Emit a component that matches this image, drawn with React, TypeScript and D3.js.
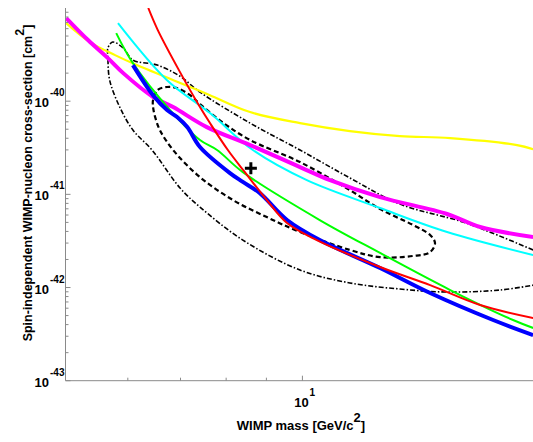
import React from 'react';
import * as d3 from 'd3';

const W = 533;
const H = 442;

const xDomain = [5, 20];
const yDomain = [1e-43, 1e-39];
const xMinorTicks = [6, 7, 8, 9];
const xMajorTicks = [10];
const xMajorExps = ['1'];
const yMajorTicks = [1e-43, 1e-42, 1e-41, 1e-40];
const yMajorExps = ['-43', '-42', '-41', '-40'];

const magentaMass = [5.01, 5.34, 5.66, 5.92, 6.46, 6.85, 7.56, 8.58, 9.93, 10.84, 12.55, 15.27, 16.82, 19.64];
const magentaSigma = [7.8e-40, 4.53e-40, 2.9e-40, 2.0e-40, 1.11e-40, 8.65e-41, 5.27e-41, 3.38e-41, 1.96e-41, 1.42e-41, 9.35e-42, 6.15e-42, 4.46e-42, 3.48e-42];

const yellowMass = [5.01, 5.37, 5.78, 6.16, 7.2, 7.63, 8.58, 9.93, 11.49, 13.3, 15.41, 18.74, 19.64];
const yellowSigma = [6.89e-40, 4.31e-40, 3.12e-40, 2.44e-40, 1.42e-40, 1.16e-40, 7.64e-41, 5.82e-41, 4.78e-41, 4.22e-41, 4.02e-41, 3.38e-41, 3.06e-41];

const cyanMass = [5.83, 6.73, 7.63, 8.65, 10.13, 12.55, 15.27, 19.64];
const cyanSigma = [6.89e-40, 1.68e-40, 7.45e-41, 2.99e-41, 1.42e-41, 7.13e-42, 3.94e-42, 2.23e-42];

const greenMass = [5.8, 6.09, 6.79, 7.41, 7.79, 8.4, 10.52, 12.55, 15.41, 18.52, 19.64];
const greenSigma = [5.38e-40, 2.56e-40, 8.02e-41, 3.83e-41, 2.99e-41, 1.73e-41, 5.3e-42, 2.35e-42, 9.4e-43, 4.48e-43, 3.68e-43];

const blueMass = [6.09, 6.46, 6.73, 6.93, 7.14, 7.41, 8.09, 8.4, 8.83, 9.56, 10.52, 12.55, 14.53, 17.47, 19.64];
const blueSigma = [2.44e-40, 1.16e-40, 8.02e-41, 6.75e-41, 5.27e-41, 3.22e-41, 1.69e-41, 1.36e-41, 1.03e-41, 5.3e-42, 3.23e-42, 1.62e-42, 8.73e-43, 4.48e-43, 3.09e-43];

const redMass = [6.37, 6.55, 6.99, 7.41, 7.63, 8.04, 8.45, 9.01, 9.56, 10.43, 12.55, 14.53, 16.82, 19.64];
const redSigma = [1.0e-39, 5.79e-40, 2.05e-40, 8.65e-41, 5.82e-41, 2.99e-41, 1.73e-41, 8.69e-42, 4.92e-42, 3.23e-42, 1.66e-42, 1.06e-42, 6.49e-43, 4.71e-43];

const outerMass = [19.64, 17.68, 16.0, 13.3, 11.49, 9.93, 8.58, 7.41, 6.99, 6.54, 6.09, 5.92, 5.74, 5.66, 5.66, 5.69, 5.86, 6.09, 6.44, 6.99, 7.41, 8.4, 9.93, 11.49, 13.3, 15.27, 17.83, 19.64];
const outerSigma = [2.53e-42, 3.66e-42, 5.05e-42, 7.87e-42, 1.5e-41, 2.99e-41, 5.82e-41, 1.25e-40, 1.85e-40, 2.44e-40, 2.76e-40, 3.72e-40, 4.31e-40, 3.72e-40, 2.97e-40, 1.68e-40, 8.65e-41, 4.9e-41, 2.99e-41, 1.17e-41, 7.31e-42, 3.23e-42, 1.54e-42, 1.12e-42, 9.64e-43, 8.95e-43, 9.4e-43, 1.06e-42];

const innerMass = [6.46, 6.55, 6.73, 6.93, 7.2, 7.41, 7.97, 8.58, 9.93, 11.49, 12.55, 13.82, 14.53, 14.74, 14.53, 13.82, 12.55, 11.49, 9.93, 9.01, 8.16, 7.41, 6.85, 6.59, 6.5, 6.46];
const innerSigma = [1.03e-40, 1.32e-40, 1.42e-40, 1.38e-40, 1.16e-40, 9.31e-41, 5.68e-41, 3.83e-41, 2.22e-41, 1.11e-41, 6.95e-42, 4.69e-42, 3.66e-42, 3.0e-42, 2.4e-42, 2.18e-42, 2.12e-42, 2.53e-42, 3.94e-42, 5.7e-42, 8.69e-42, 1.53e-41, 2.99e-41, 4.9e-41, 6.75e-41, 8.65e-41];

const bestFitMass = [8.6];
const bestFitSigma = [1.91e-41];

const X0 = 65.5;
const Y0 = 380.7;
const YTOP = 8;
const x = d3.scaleLog().domain(xDomain).range([X0, X0 + Math.log10(4) * 787]);
const y = d3.scaleLog().domain(yDomain).range([Y0, YTOP]);

const zip = (m: number[], s: number[]) => m.map((v, i) => [v, s[i]] as [number, number]);

const lineGen = d3.line<[number, number]>().x(d => x(d[0])).y(d => y(d[1])).curve(d3.curveCatmullRom.alpha(0.5));
const closedGen = d3.line<[number, number]>().x(d => x(d[0])).y(d => y(d[1])).curve(d3.curveCatmullRomClosed.alpha(0.5));

const FONT = '"Liberation Sans", Arial, Helvetica, sans-serif';
const AXIS = '#8a8a8a';

export default function App() {
  // minor y ticks
  const yMinor: number[] = [];
  for (let e = -43; e < -39; e++) {
    for (let k = 2; k <= 9; k++) yMinor.push(k * Math.pow(10, e));
  }
  const series = [
    { m: yellowMass, s: yellowSigma, c: '#ffff00', w: 2.2 },
    { m: cyanMass, s: cyanSigma, c: '#00ffff', w: 2 },
    { m: magentaMass, s: magentaSigma, c: '#ff00ff', w: 4 },
    { m: greenMass, s: greenSigma, c: '#00ff00', w: 2 },
    { m: blueMass, s: blueSigma, c: '#0000ff', w: 4 },
    { m: redMass, s: redSigma, c: '#ff0000', w: 2 },
  ];
  return (
    <svg width={W} height={H} style={{ position: 'absolute', left: 0, top: 0, background: '#fff' }} fontFamily={FONT}>
      <defs>
        <clipPath id="plot">
          <rect x={X0} y={YTOP} width={W - X0} height={Y0 - YTOP} />
        </clipPath>
      </defs>
      <g clipPath="url(#plot)">
        <path d={closedGen(zip(innerMass, innerSigma)) || ''} fill="none" stroke="#000" strokeWidth={2.2} strokeDasharray="5,3" />
        <path d={lineGen(zip(outerMass, outerSigma)) || ''} fill="none" stroke="#000" strokeWidth={1.6} strokeDasharray="5,2,1.5,2" />
        {series.map((sr, i) => (
          <path key={i} d={lineGen(zip(sr.m, sr.s)) || ''} fill="none" stroke={sr.c} strokeWidth={sr.w} strokeLinejoin="round" />
        ))}
        {bestFitMass.map((m, i) => (
          <path key={i} transform={`translate(${x(m)},${y(bestFitSigma[i])})`} d="M-6,0H6M0,-6V6" stroke="#000" strokeWidth={3} />
        ))}
      </g>
      {/* axes */}
      <line x1={X0} x2={W} y1={Y0} y2={Y0} stroke={AXIS} strokeWidth={1} />
      <line x1={X0} x2={X0} y1={YTOP} y2={Y0} stroke={AXIS} strokeWidth={1} />
      {xMinorTicks.map(t => (
        <line key={t} x1={x(t)} x2={x(t)} y1={Y0} y2={Y0 - 3} stroke={AXIS} />
      ))}
      {xMajorTicks.map(t => (
        <line key={t} x1={x(t)} x2={x(t)} y1={Y0} y2={Y0 - 5} stroke={AXIS} />
      ))}
      {yMinor.map((t, i) => (
        <line key={i} x1={X0} x2={X0 + 3} y1={y(t)} y2={y(t)} stroke={AXIS} />
      ))}
      {yMajorTicks.map(t => (
        <line key={t} x1={X0} x2={X0 + 5} y1={y(t)} y2={y(t)} stroke={AXIS} />
      ))}
      {/* y tick labels */}
      {yMajorTicks.map((t, i) => (
        <g key={t} fontWeight="bold">
          <text x={49} y={y(t) + 6} fontSize={13} textAnchor="end">10</text>
          <text x={50} y={y(t) - 5} fontSize={10}>{yMajorExps[i]}</text>
        </g>
      ))}
      {xMajorTicks.map((t, i) => (
        <g key={t} fontWeight="bold">
          <text x={x(t) - 1} y={407} fontSize={13} textAnchor="middle">10</text>
          <text x={x(t) + 7} y={396} fontSize={10}>{xMajorExps[i]}</text>
        </g>
      ))}
      {/* titles */}
      <text x={301} y={430} fontSize={13} fontWeight="bold" textAnchor="middle">
        WIMP mass [GeV/c<tspan dy={-8}>2</tspan><tspan dy={8}>]</tspan>
      </text>
      <text transform="translate(32,183) rotate(-90)" fontSize={12.5} fontWeight="bold" textAnchor="middle">
        Spin-independent WIMP-nucleon cross-section [cm<tspan dy={-8}>2</tspan><tspan dy={8}>]</tspan>
      </text>
    </svg>
  );
}
